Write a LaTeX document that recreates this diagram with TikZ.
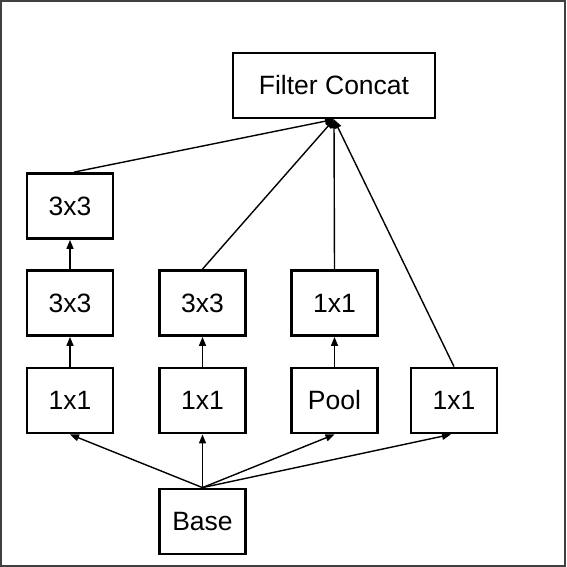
\documentclass[tikz,border=0pt]{standalone}
\usepackage{fontspec}
\setmainfont{Liberation Sans}
\usetikzlibrary{arrows.meta}
\begin{document}
\begin{tikzpicture}[x=1pt,y=1pt,
  blk/.style={draw=black, line width=2.8pt, fill=white, minimum width=86pt, minimum height=65pt, inner sep=0pt, font=\fontsize{26.5}{30}\selectfont},
  conn/.style={draw=black, line width=1.4pt, -{Triangle[length=9pt,width=7pt]}}]
\useasboundingbox (0,0) rectangle (566,-567);
\draw[draw=black!75, line width=2pt] (1,-1) rectangle (565,-566);
\node[blk, minimum width=202pt] (fc) at (334,-85.5) {Filter Concat};
\node[blk] (c1) at (70,-206) {3x3};
\node[blk] (b1) at (70,-303) {3x3};
\node[blk] (b2) at (202.5,-303) {3x3};
\node[blk] (b3) at (334.5,-303) {1x1};
\node[blk] (a1) at (70,-400.5) {1x1};
\node[blk] (a2) at (202.5,-400.5) {1x1};
\node[blk] (a3) at (334.5,-400.5) {Pool};
\node[blk] (a4) at (454,-400.5) {1x1};
\node[blk] (base) at (202.5,-521.5) {Base};
\coordinate (fcin) at (fc.south);
\draw[conn] ([xshift=4pt]c1.north) -- (fcin);
\draw[conn] (b2.north) -- (fcin);
\draw[conn] (b3.north) -- (fcin);
\draw[conn] (a4.north) -- (fcin);
\draw[conn] (b1.north) -- (c1.south);
\draw[conn] (a1.north) -- (b1.south);
\draw[conn] (a2.north) -- (b2.south);
\draw[conn] (a3.north) -- (b3.south);
\draw[conn] (base.north) -- (a1.south);
\draw[conn] (base.north) -- (a2.south);
\draw[conn] (base.north) -- (a3.south);
\draw[conn] (base.north) -- ([xshift=-3pt]a4.south);
\end{tikzpicture}
\end{document}
